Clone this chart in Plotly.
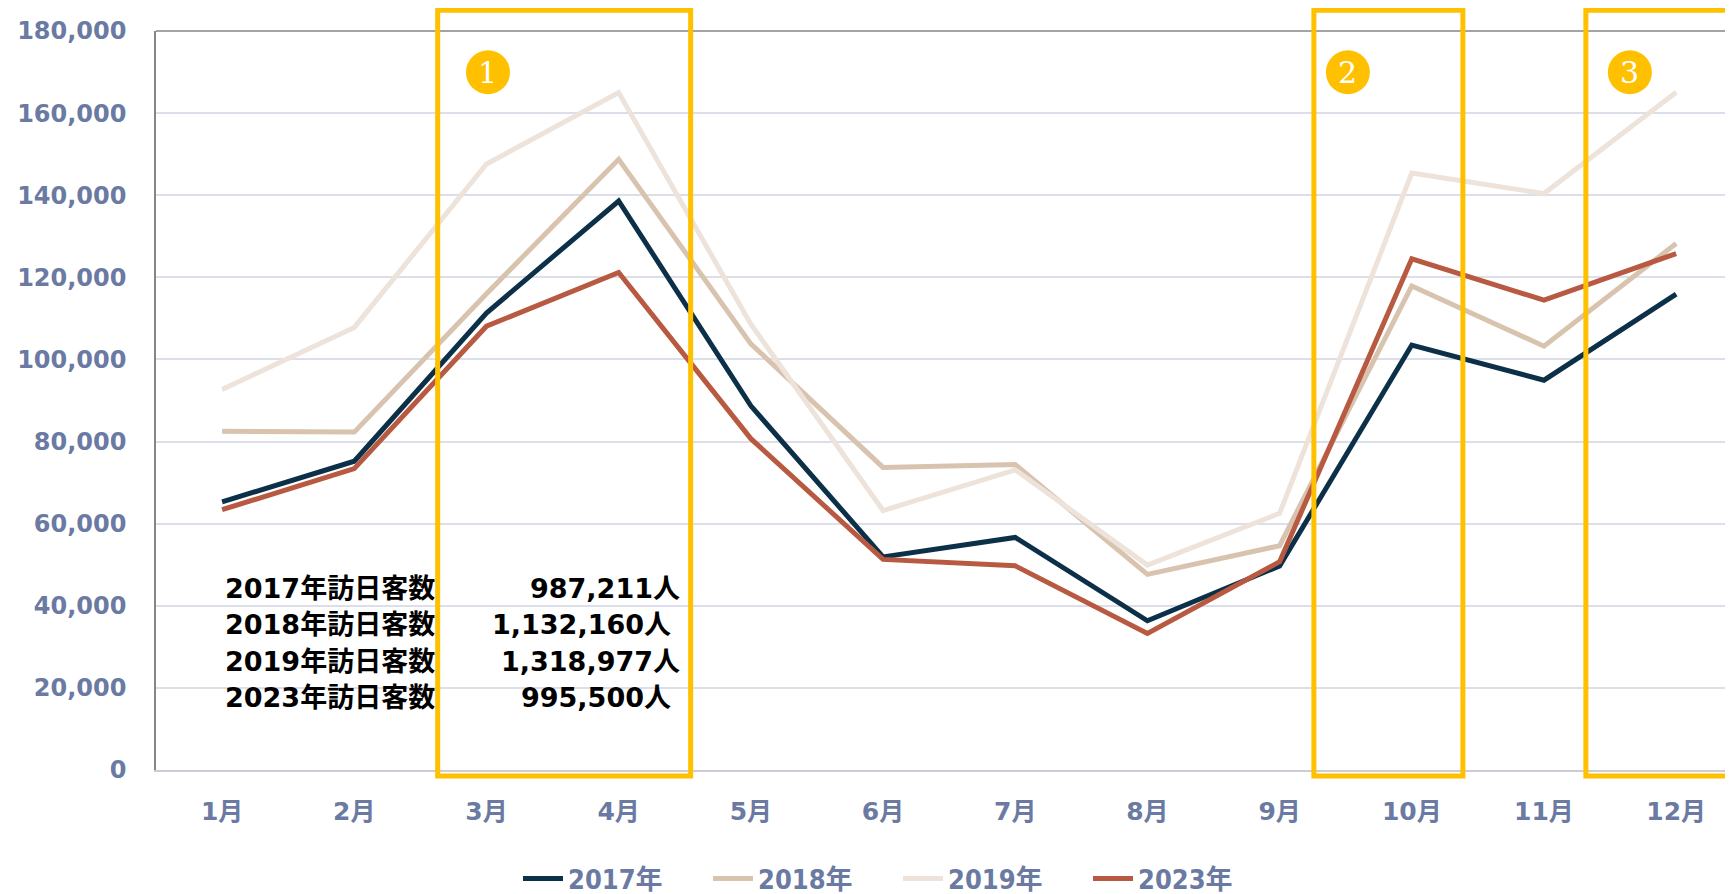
import plotly.graph_objects as go

months = ["1月", "2月", "3月", "4月", "5月", "6月", "7月", "8月", "9月", "10月", "11月", "12月"]
v2017 = [65300, 75200, 111300, 138600, 88700, 51900, 56650, 36350, 49700, 103500, 94950, 115900]
v2018 = [82500, 82300, 116000, 148760, 103800, 73700, 74400, 47640, 54620, 117900, 103230, 128230]
v2019 = [92700, 107800, 147600, 165000, 108600, 63200, 73100, 49900, 62500, 145400, 140400, 165100]
v2023 = [63400, 73400, 108100, 121170, 80700, 51300, 49740, 33280, 50720, 124500, 114430, 125800]

series_names = ["2017年", "2018年", "2019年", "2023年"]
series_colors = ["#0B3048", "#D8C3AF", "#EDE3DA", "#B85A42"]
totals_labels = ["2017年訪日客数", "2018年訪日客数", "2019年訪日客数", "2023年訪日客数"]
totals_values = ["987,211人", "1,132,160人", "1,318,977人", "995,500人"]
y_ticks = [0, 20000, 40000, 60000, 80000, 100000, 120000, 140000, 160000, 180000]

LABEL = "#6A7AA2"
GOLD = "#FFC000"
FONT = "DejaVu Sans, Noto Sans CJK JP"

fig = go.Figure()
for name, vals, col in zip(series_names, [v2017, v2018, v2019, v2023], series_colors):
    fig.add_trace(go.Scatter(x=list(range(len(months))), y=vals, name=name, mode="lines",
                             line=dict(color=col, width=5)))

# page offset of the plot div (body margin)
OFF = 8
W, H = 1733 - OFF, 894 - OFF
# plot area in page pixels
PL, PT, PB, PR = 156, 30.7, 770, 1733
L, T = PL - OFF, PT - OFF
B = H - (PB - OFF)
plot_h = PB - PT
plot_w = PR - PL

fig.update_layout(
    width=W, height=H,
    margin=dict(l=L, r=0, t=T, b=B, autoexpand=False),
    paper_bgcolor="white", plot_bgcolor="white",
    font=dict(family=FONT, color=LABEL),
    xaxis=dict(range=[-0.5, 11.43], tickmode="array", tickvals=list(range(12)), ticktext=months,
               showgrid=False, zeroline=False, showline=True, linecolor="#CBCCD6", linewidth=2,
               tickfont=dict(family=FONT, size=25, color=LABEL, weight="bold"),
               ticklabelstandoff=18, fixedrange=True, automargin=False),
    yaxis=dict(range=[0, 180000], tickvals=y_ticks, tickformat=",d",
               showgrid=True, gridcolor="#DCDEEA", gridwidth=2, zeroline=False,
               showline=True, linecolor="#858585", linewidth=1.5, automargin=False,
               tickfont=dict(family="DejaVu Sans", size=24, color=LABEL, weight="bold"),
               ticklabelstandoff=23),
    legend=dict(orientation="h", x=(898 - PL) / plot_w, xanchor="center", y=(PB - 879) / plot_h, yanchor="middle",
                font=dict(family="DejaVu Sans Condensed, Noto Sans CJK JP", size=27, color=LABEL, weight="bold"),
                entrywidth=135, itemwidth=40),
)

# top frame line
fig.add_shape(type="line", xref="paper", yref="paper", x0=0, x1=1, y0=1, y1=1,
              line=dict(color="#858585", width=1.5), layer="above")

def ppx(px):
    return (px - PL) / 132.2 - 0.5

def ppy(py):
    return (PB - py) / plot_h

boxes = [(437.7, 690.7), (1314, 1463), (1586, 1734)]
for x0, x1 in boxes:
    fig.add_shape(type="rect", xref="x", yref="paper", x0=ppx(x0), x1=ppx(x1), y0=ppy(776), y1=ppy(10),
                  line=dict(color=GOLD, width=5), fillcolor="rgba(0,0,0,0)", layer="above")

circles = [(488, "1"), (1348, "2"), (1630, "3")]
for cx, lab in circles:
    fig.add_shape(type="circle", xref="x", yref="paper", xsizemode="pixel", ysizemode="pixel",
                  xanchor=ppx(cx), yanchor=ppy(72), x0=-22, x1=22, y0=-22, y1=22,
                  line=dict(color=GOLD, width=0), fillcolor=GOLD, layer="above")
    fig.add_annotation(xref="x", yref="paper", x=ppx(cx), y=ppy(72), text=lab, showarrow=False,
                       font=dict(family="DejaVu Serif", size=30, color="white"),
                       xanchor="center", yanchor="middle")

rows_y = [588, 624.5, 661, 697]
val_right = [682, 673, 682, 673]
for lab, val, ry, vr in zip(totals_labels, totals_values, rows_y, val_right):
    fig.add_annotation(xref="paper", yref="paper", x=(223 - PL) / plot_w, y=ppy(ry), text=lab,
                       showarrow=False, xanchor="left", yanchor="middle",
                       font=dict(family="DejaVu Sans, Noto Sans CJK JP", size=27, color="black", weight="bold"))
    fig.add_annotation(xref="paper", yref="paper", x=(vr - PL) / plot_w, y=ppy(ry), text=val,
                       showarrow=False, xanchor="right", yanchor="middle",
                       font=dict(family="DejaVu Sans, Noto Sans CJK JP", size=27, color="black", weight="bold"))

fig.write_html("out.html")
